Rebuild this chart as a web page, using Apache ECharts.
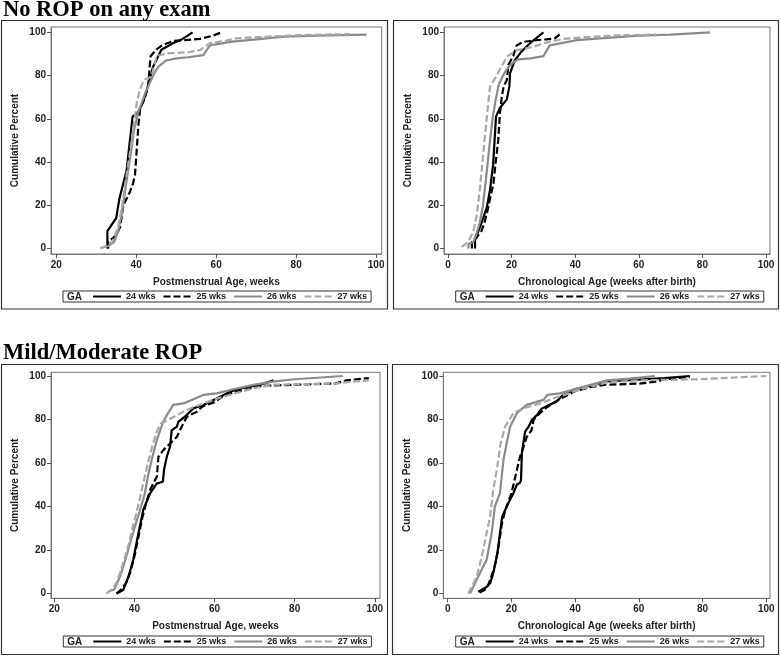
<!DOCTYPE html>
<html><head><meta charset="utf-8">
<script src="https://cdn.jsdelivr.net/npm/echarts@6/dist/echarts.min.js"></script>
<style>html,body{margin:0;padding:0;background:#fff}#c{width:781px;height:656px}</style>
</head><body><div id="c"></div><script>
// ---- labels ----
const gaLabels = ['24 wks', '25 wks', '26 wks', '27 wks'];
const legendTitle = 'GA';
const panelTitles = ['No ROP on any exam', 'Mild/Moderate ROP'];
const xNamePMA = 'Postmenstrual Age, weeks';
const xNameCA = 'Chronological Age (weeks after birth)';
const yName = 'Cumulative Percent';
const xTicksPMA = [20, 40, 60, 80, 100];
const xTicksCA = [0, 20, 40, 60, 80, 100];
const yTicks = [0, 20, 40, 60, 80, 100];

// ---- No ROP, postmenstrual age ----
const tl24 = [[32.8,0],[32.8,8],[35,14],[35.8,23],[37.6,36],[39.1,61],[40.5,63],[41.8,68],[42.6,73],[44.2,84],[46.3,92],[49.2,95],[51.6,97],[54.1,100]];
const tl25 = [[33,0],[33,3],[35,6],[36,10],[36.8,20],[38.4,26],[39.2,30],[39.7,34],[40.3,50],[40.6,58],[41,65],[42.2,70],[43,75],[43.3,82],[43.6,89],[45,92],[46.5,94],[49.2,96],[53,96.5],[56,97],[59.2,98.5],[61.3,100]];
const tl26 = [[31.5,0.5],[33,1],[34.5,3],[35.5,8],[36.5,17],[37.5,30],[38.5,42],[39.5,55],[40.5,63],[41.5,68],[42.5,73],[43.5,77],[44.5,81],[45.5,84],[47.5,87],[50,88],[53,88.5],[56.8,89.5],[58.4,94],[64,95.7],[70,96.8],[77,98],[85,98.5],[97.6,99]];
const tl27 = [[31,0],[32.5,1],[34,3],[35.5,10],[36.5,20],[37.5,33],[38.5,45],[39.5,58],[40.2,68],[41,74],[42,78],[43.8,79.5],[45.1,89],[47.6,90.3],[53,90.8],[56,91.8],[58.4,95],[62,96],[65,97.2],[70,97.8],[81.7,98.8],[93.4,99.2]];

// ---- No ROP, chronological age ----
const tr24 = [[8.5,0],[8.5,4],[9,4],[10.6,12],[12.2,19],[13.2,27],[14.2,39],[15.1,61],[16.3,65],[18.5,69],[19.3,75],[19.5,81],[21,87],[23,91],[25.8,95],[30,100]];
const tr25 = [[7.5,0],[7.5,3],[9,5],[10.5,8],[11.5,12],[12.5,18],[13.5,25],[14.3,30],[15,40],[15.8,50],[16.3,62],[16.9,70],[17.5,75],[18.5,78],[19,85],[20.5,89],[21.6,94],[23.7,95.6],[27,96.3],[31,96.8],[33.6,97.2],[35.8,100]];
const tr26 = [[6.4,0],[6.4,2],[8,3],[9,7],[10,12],[11,20],[12,33],[13,47],[14,60],[15,69],[16,76],[17.3,80],[19,84],[20.5,86],[22,87.5],[26,88],[30,89],[32,94],[40.5,96.4],[50,97.5],[60,98.5],[70,99],[82.4,100]];
const tr27 = [[4.3,0.7],[5.5,2],[6.9,4.6],[8,8],[9,15],[10,27],[11.1,44],[12,58],[13.2,74.8],[14.5,78],[16,82],[18.5,88.7],[21.6,91.8],[26.8,93.3],[30,95],[36.3,97],[45,98],[55,98.7],[65.6,99]];

// ---- Mild/Moderate ROP, postmenstrual age ----
const bl24 = [[35.6,0],[37.2,1.6],[38.5,7.7],[39.7,15.4],[41,27.7],[42.2,38.4],[43.9,46],[45.6,50.6],[47.1,51.4],[47.4,57],[48.1,63],[48.9,67.5],[49.3,75],[50.6,76.7],[51,79],[52.6,81.3],[54.7,85.1],[57.2,86.7],[60.5,89.7],[63.9,92.8],[67,94.5],[71.4,96],[74.7,98]];
const bl25 = [[35.5,0],[36.5,1.5],[38,5],[39,10],[40,17],[41,26],[42,35],[43,42],[44,48],[45.6,53.7],[46,62.9],[47.2,65.9],[48.9,69],[50.6,72],[51.8,76.7],[53.1,81.3],[55.6,83.6],[57,86],[60,88],[62,90.5],[64,92],[68,94],[72,95.5],[80,96],[90,96.5],[93,98],[98.5,99]];
const bl26 = [[33.5,0.8],[35,2],[36.4,7.7],[37.5,14],[38.9,23],[40,30],[41.4,38.4],[42.6,46],[43.5,55],[44.3,61.4],[45.6,70.6],[47.2,79],[48.1,82],[49.7,86.7],[52.2,87.4],[55,89.5],[57.2,91.3],[60.5,92],[65,94],[70,96],[75,97.5],[80,98.5],[92,100]];
const bl27 = [[33,0],[34.5,2],[35.5,5],[36.5,10],[37.5,16],[38.5,22],[39.5,30],[40.5,37],[41.5,45],[42.5,53],[43.5,61],[44.5,68],[45.5,74],[46.5,78],[48.1,79.5],[50.6,82],[53.1,84.4],[57.2,87.4],[60.5,89.5],[65,92],[70,94.5],[75,96],[90,96.5],[95,97.5],[98.5,98]];

// ---- Mild/Moderate ROP, chronological age ----
const br24 = [[9.6,0.8],[12.2,3],[13.3,4.7],[14.3,9.3],[15.6,18.5],[16.4,27.7],[17.1,35.3],[19,41.5],[20.6,46],[21.7,50],[22.7,51],[23,52],[23.3,65],[24.3,74.4],[25.5,77],[26.5,80],[28,82],[29.5,85],[31.5,86.5],[34,88],[36,91],[40,94],[45,95.5],[50,97.5],[60,98.3],[68,99],[76,100]];
const br25 = [[10,0.5],[12,2],[13,5],[14,9],[15,14],[16,22],[17,32],[18,38],[19,42],[20,46],[21.7,56.8],[22.7,62.9],[23.5,66],[24.8,72],[26.3,75],[27,80],[29,83],[31,85.5],[33,87.5],[36,90],[40,93],[45,95],[50,96],[60,96.5],[65.6,97.4],[68,98.5],[72,99],[76,99.5]];
const br26 = [[7,0],[8,3],[10.1,9.3],[12.2,15.4],[13.8,27.7],[14.8,40],[16.4,46],[17.5,61.4],[18.5,69],[19.6,76.7],[21.7,82.9],[24.8,86.7],[30,89],[31.3,91.3],[35.2,92],[42.6,95],[50,98],[57,98.8],[65,100]];
const br27 = [[6.5,0],[7,1.6],[9.1,7.7],[10.7,16.9],[12.2,27.7],[13.3,35.3],[14.3,47.6],[15.4,56.8],[16.6,69],[18,76.7],[20.6,82.9],[23.7,85.1],[29,87.4],[33.1,89.7],[38,92],[42,94],[50,97],[60,98],[79,98.5],[100,100]];

// ---- chart assembly ----
const panelData = [[tl24, tl25, tl26, tl27], [tr24, tr25, tr26, tr27], [bl24, bl25, bl26, bl27], [br24, br25, br26, br27]];
const FONT = '"Liberation Sans", Arial, Helvetica, sans-serif';
const lineColors = ['#000000', '#000000', '#8a8a8a', '#a8a8a8'];
const lineTypes = ['solid', [7, 3], 'solid', [7, 3]];

const grids = [
  {left: 51, top: 27, width: 330.7, height: 227},
  {left: 444, top: 27, width: 326, height: 227},
  {left: 51, top: 372.3, width: 329, height: 226},
  {left: 443.3, top: 372.3, width: 326.7, height: 226}
];
const xRanges = [[18.7, 101.4], [-1.26, 101.26], [19.18, 101.3], [-1.38, 101.16]];
const yRanges = [[-2.6, 102.5], [-2.6, 102.5], [-2.2, 101.7], [-2.2, 101.7]];
const xNames = [xNamePMA, xNameCA, xNamePMA, xNameCA];
const xTickSets = [xTicksPMA, xTicksCA, xTicksPMA, xTicksCA];
const legendPos = [[63, 291], [455.7, 291], [63.3, 636], [455.7, 636]];

const axisText = {fontFamily: FONT, fontWeight: 'bold', fontSize: 10, color: '#222'};

const xAxes = grids.map((g, i) => ({
  gridIndex: i, type: 'value', min: xRanges[i][0], max: xRanges[i][1],
  name: xNames[i], nameLocation: 'middle', nameGap: 23, nameTextStyle: axisText,
  axisLine: {show: true, onZero: false, lineStyle: {color: '#777', width: 1}},
  axisTick: {show: true, length: 4, customValues: xTickSets[i], lineStyle: {color: '#555'}},
  axisLabel: Object.assign({customValues: xTickSets[i], margin: 6}, axisText),
  splitLine: {show: false}
}));
const yAxes = grids.map((g, i) => ({
  gridIndex: i, type: 'value', min: yRanges[i][0], max: yRanges[i][1],
  name: yName, nameLocation: 'middle', nameGap: 31, nameTextStyle: axisText,
  axisLine: {show: true, onZero: false, lineStyle: {color: '#777', width: 1}},
  axisTick: {show: true, length: 4, customValues: yTicks, lineStyle: {color: '#555'}},
  axisLabel: Object.assign({customValues: yTicks, margin: 5}, axisText),
  splitLine: {show: false}
}));

const series = [];
panelData.forEach((arrs, p) => {
  arrs.forEach((d, g) => {
    series.push({
      type: 'line', name: gaLabels[g], xAxisIndex: p, yAxisIndex: p, data: d,
      symbol: 'none', showSymbol: false, silent: true, color: lineColors[g],
      lineStyle: {color: lineColors[g], width: 2.2, type: lineTypes[g]}
    });
  });
});

const legends = legendPos.map(pos => ({
  left: pos[0], top: pos[1], orient: 'horizontal', data: gaLabels,
  itemWidth: 28, itemHeight: 10, itemGap: 7, padding: [1, 4, 1, 29],
  borderColor: '#333', borderWidth: 1, selectedMode: false,
  itemStyle: {color: 'rgba(0,0,0,0)', borderColor: 'rgba(0,0,0,0)', borderWidth: 0, opacity: 0},
  textStyle: {fontFamily: FONT, fontWeight: 'bold', fontSize: 9, color: '#222'}
}));

const titleFont = 'bold 22.5px "Liberation Serif", "Times New Roman", serif';
const graphic = [
  {type: 'rect', shape: {x: 1.5, y: 20.5, width: 386, height: 288.5}, style: {fill: 'none', stroke: '#333', lineWidth: 1.2}},
  {type: 'rect', shape: {x: 393.5, y: 20.5, width: 385, height: 288.5}, style: {fill: 'none', stroke: '#333', lineWidth: 1.2}},
  {type: 'rect', shape: {x: 1.5, y: 364.5, width: 386, height: 290}, style: {fill: 'none', stroke: '#333', lineWidth: 1.2}},
  {type: 'rect', shape: {x: 392.5, y: 364.5, width: 386, height: 290}, style: {fill: 'none', stroke: '#333', lineWidth: 1.2}},
  {type: 'text', x: 3, y: 10, style: {text: panelTitles[0], font: titleFont, fill: '#000', verticalAlign: 'middle'}},
  {type: 'text', x: 3, y: 353, style: {text: panelTitles[1], font: titleFont, fill: '#000', verticalAlign: 'middle'}}
];
legendPos.forEach(pos => {
  graphic.push({type: 'text', x: pos[0] + 4, y: pos[1] + 6.5, style: {text: legendTitle, font: 'bold 10px ' + FONT, fill: '#222', verticalAlign: 'middle'}});
});

const chart = echarts.init(document.getElementById('c'), null, {renderer: 'canvas'});
chart.setOption({
  animation: false,
  backgroundColor: '#fff',
  grid: grids.map(g => Object.assign({show: true, borderColor: '#777', borderWidth: 1, backgroundColor: 'transparent'}, g)),
  xAxis: xAxes, yAxis: yAxes, legend: legends, series: series, graphic: graphic
});
</script></body></html>
